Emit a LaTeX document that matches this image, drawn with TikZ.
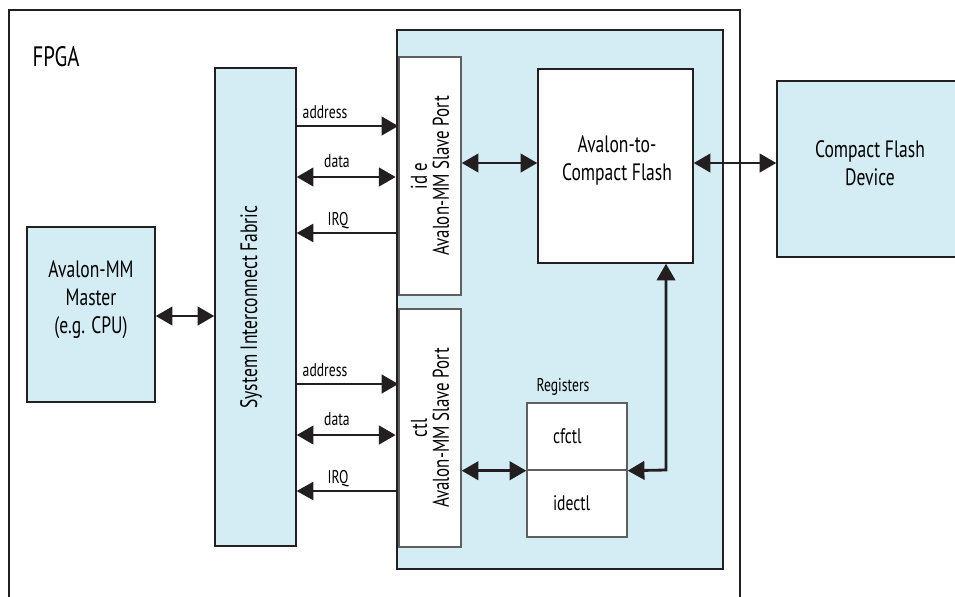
\documentclass[tikz,border=0pt]{standalone}
\usepackage{fontspec}
\setmainfont{PT Sans}[FakeStretch=0.74]
\usetikzlibrary{arrows.meta}

\newdimen\px \px=0.02cm
\definecolor{fillblue}{RGB}{212,236,243}
\definecolor{linedark}{RGB}{35,31,32}
\definecolor{linegray}{RGB}{95,95,95}

\tikzset{
  blk/.style={draw=linedark, line width=0.8pt, fill=fillblue, inner sep=0pt},
  wblk/.style={draw=linegray, line width=0.8pt, fill=white, inner sep=0pt},
  txt/.style={font=\fontsize{13.5}{16}\selectfont, align=center, text=black},
  lbl/.style={font=\fontsize{10.5}{12}\selectfont, text=black, inner sep=0pt},
  regcell/.style={minimum width=100\px, minimum height=67\px, text width=48\px,
    align=left, text=black, font=\fontsize{12}{14}\selectfont},
  bus/.style={draw=linedark, line width=1.6pt},
  irq/.style={draw=linedark, line width=0.6pt},
}

\begin{document}
\begin{tikzpicture}[x=1\px, y=-1\px, >={Triangle[length=9.5pt,width=10.5pt]}]
    \useasboundingbox (0,0) rectangle (955,596);

    % FPGA (bottom edge lies outside the picture)
    \draw[linedark, line width=0.8pt] (9,605) -- (9,10) -- (740,10) -- (740,605);
    \node[txt, font=\fontsize{16}{18}\selectfont] (fpga) at (56,57) {FPGA};

    % host side
    \node[blk, minimum width=128\px, minimum height=175\px] (master) at (91,314.5) {};
    \node[txt] (mastertxt) at (91,300) {Avalon-MM\\Master\\(e.g. CPU)};
    \node[blk, minimum width=81\px, minimum height=478\px] (fabric) at (255.5,307) {};
    \node[txt, rotate=90] (fabrictxt) at (251,307) {System Interconnect Fabric};
    \draw[bus, <->] (master.east |- 0,316) -- (fabric.west |- 0,316);

    % compact flash core
    \node[blk, minimum width=326\px, minimum height=539\px] (core) at (560,299.5) {};
    \node[wblk, minimum width=62\px, minimum height=238\px] (ide) at (430,176) {};
    \node[wblk, minimum width=62\px, minimum height=238\px] (ctl) at (430,428) {};
    \node[txt, rotate=90, font=\fontsize{13}{12.5}\selectfont] (idetxt) at (ide) {id e\\Avalon-MM Slave Port};
    \node[txt, rotate=90, font=\fontsize{13}{12.5}\selectfont] (ctltxt) at (ctl) {ctl\\Avalon-MM Slave Port};

    \node[wblk, draw=linedark, minimum width=155\px, minimum height=194\px] (a2cf) at (615.5,166) {};
    \node[txt] (a2cftxt) at (617,160) {Avalon-to-\\Compact Flash};
    \node[blk, minimum width=188\px, minimum height=176\px] (device) at (871,169) {};
    \node[txt] (devicetxt) at (870,163) {Compact Flash\\Device};

    \draw[bus, <->] (ide.east |- 0,163) -- (a2cf.west |- 0,163);
    \draw[bus, <->] (a2cf.east |- 0,163) -- (device.west |- 0,163);

    % registers
    \node[lbl] (regtxt) at (563,387) {Registers};
    \node[wblk, regcell] (cfctl) at (577,436.5) {cfctl};
    \node[wblk, regcell] (idectl) at (577,503.5) {idectl};
    \coordinate (bend) at (666,470);
    \draw[bus, <->] (ctl.east |- cfctl.south west) -- (cfctl.south west);
    \draw[bus, <->] (cfctl.south east) -- (bend) -- (bend |- a2cf.south);

    % port signals
    \foreach \port/\dy in {ide/0, ctl/258} {
        \draw[bus, ->] (fabric.east |- 0,126+\dy) -- (\port.west |- 0,126+\dy);
        \draw[bus, <->, shorten >=1.5pt] (fabric.east |- 0,177+\dy) -- (\port.west |- 0,177+\dy);
        \draw[irq, ->] (\port.west |- 0,233+\dy) -- (fabric.east |- 0,233+\dy);
        \node[lbl] (addr\port) at (325,112+\dy) {address};
        \node[lbl] (data\port) at (337,161+\dy) {data};
        \node[lbl] (irq\port) at (338,221+\dy) {IRQ};
    }
\end{tikzpicture}
\end{document}
